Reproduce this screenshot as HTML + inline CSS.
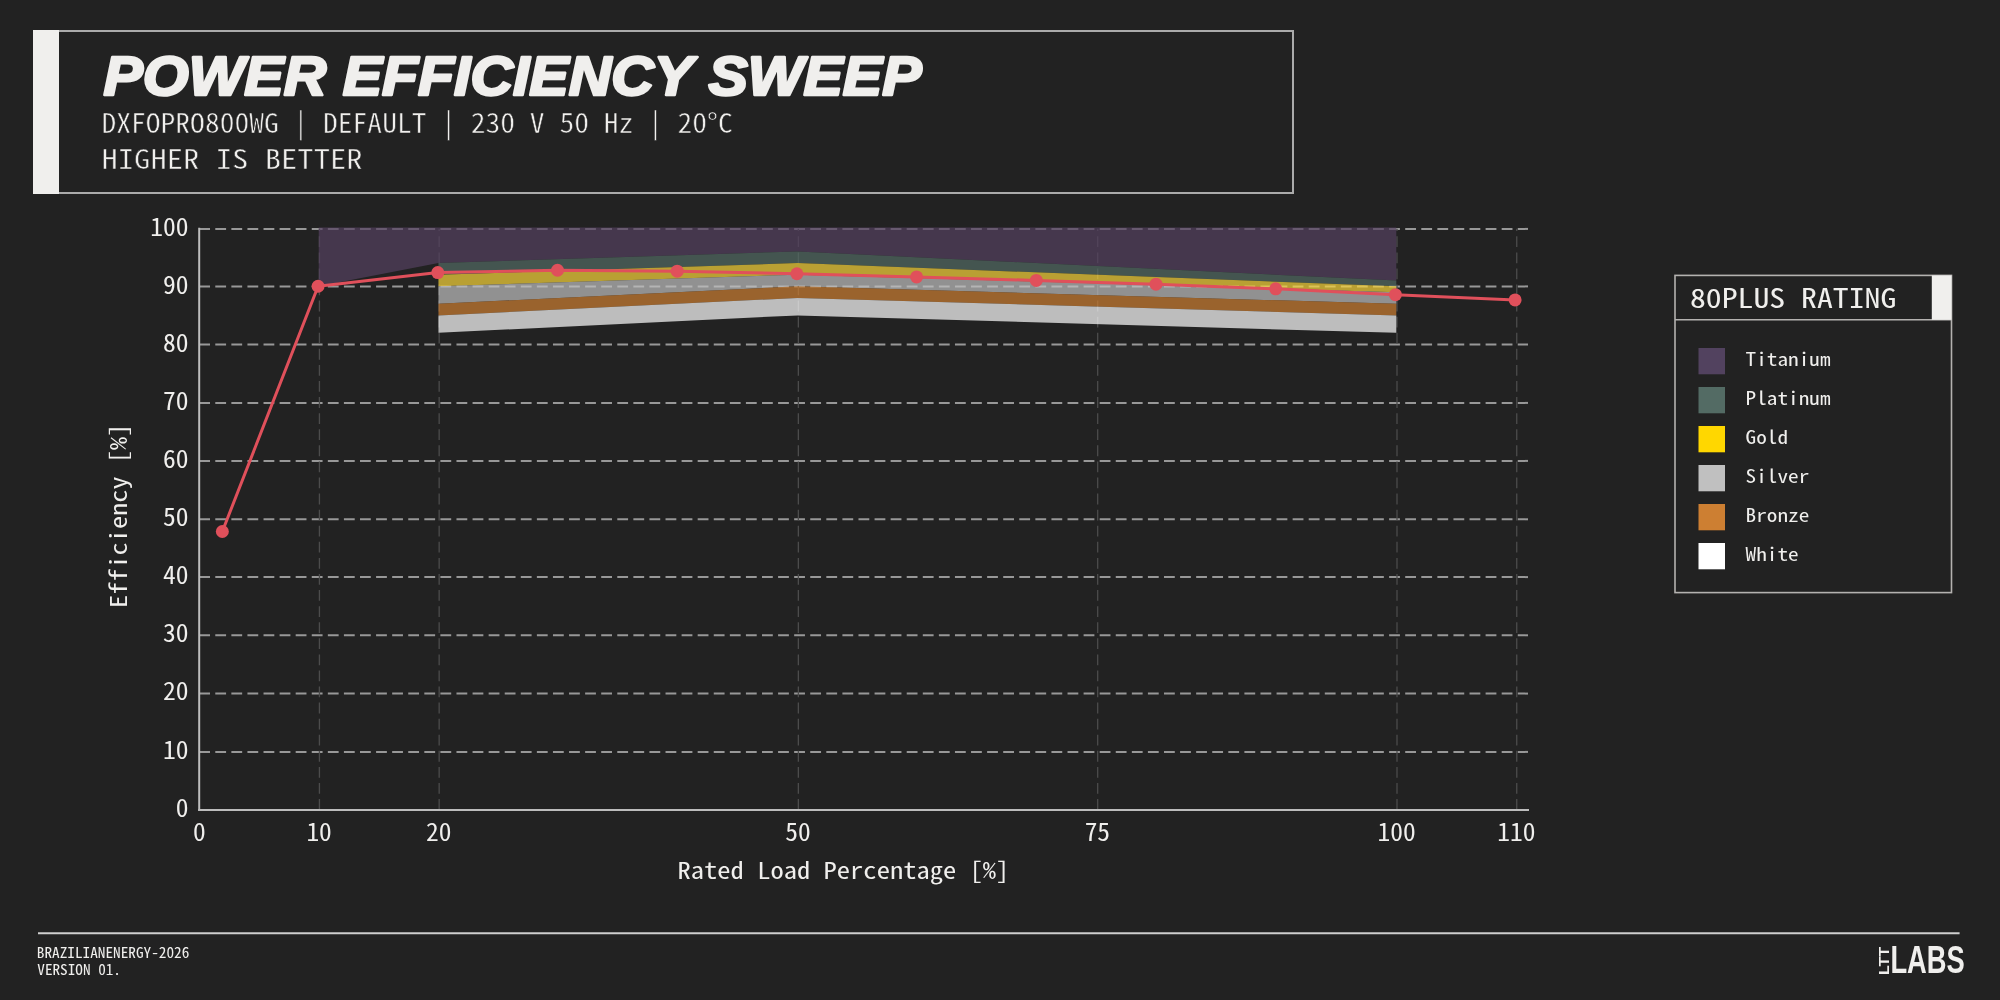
<!DOCTYPE html>
<html><head><meta charset="utf-8"><title>Power Efficiency Sweep</title>
<style>
html,body{margin:0;padding:0;background:#222222;width:2000px;height:1000px;overflow:hidden}
svg{display:block;will-change:transform}
.m{font-family:'Noto Sans Mono CJK JP','DejaVu Sans Mono','Liberation Mono',monospace;fill:#f0efed}
.e{stroke:#222222;stroke-width:0.5px}
</style></head><body>
<svg width="2000" height="1000" viewBox="0 0 2000 1000">
<rect width="2000" height="1000" fill="#222222"/>

<rect x="34" y="31" width="1259" height="162" fill="none" stroke="#ababab" stroke-width="2"/>
<rect x="33" y="30" width="26" height="164" fill="#f0efed"/>
<text x="103.5" y="94.8" font-family="'Liberation Sans',Arial,sans-serif" font-weight="700" font-style="italic" font-size="55" fill="#f0efed" stroke="#f0efed" stroke-width="2.6" stroke-linejoin="round" textLength="818" lengthAdjust="spacingAndGlyphs">POWER EFFICIENCY SWEEP</text>
<text class="m e" x="101.5" y="133" font-size="27.2" textLength="631.3" lengthAdjust="spacingAndGlyphs">DXFOPRO800WG | DEFAULT | 230 V 50 Hz | 20°C</text>
<text class="m e" x="101.4" y="168.7" font-size="27.2" textLength="261.3" lengthAdjust="spacingAndGlyphs">HIGHER IS BETTER</text>
<line x1="199.2" y1="751.90" x2="1528" y2="751.90" stroke="#989898" stroke-width="2" stroke-dasharray="10.8 5.28"/>
<line x1="199.2" y1="693.60" x2="1528" y2="693.60" stroke="#989898" stroke-width="2" stroke-dasharray="10.8 5.28"/>
<line x1="199.2" y1="635.30" x2="1528" y2="635.30" stroke="#989898" stroke-width="2" stroke-dasharray="10.8 5.28"/>
<line x1="199.2" y1="577.10" x2="1528" y2="577.10" stroke="#989898" stroke-width="2" stroke-dasharray="10.8 5.28"/>
<line x1="199.2" y1="519.30" x2="1528" y2="519.30" stroke="#989898" stroke-width="2" stroke-dasharray="10.8 5.28"/>
<line x1="199.2" y1="460.90" x2="1528" y2="460.90" stroke="#989898" stroke-width="2" stroke-dasharray="10.8 5.28"/>
<line x1="199.2" y1="402.90" x2="1528" y2="402.90" stroke="#989898" stroke-width="2" stroke-dasharray="10.8 5.28"/>
<line x1="199.2" y1="344.50" x2="1528" y2="344.50" stroke="#989898" stroke-width="2" stroke-dasharray="10.8 5.28"/>
<line x1="199.2" y1="286.40" x2="1528" y2="286.40" stroke="#989898" stroke-width="2" stroke-dasharray="10.8 5.28"/>
<line x1="199.2" y1="228.90" x2="1528" y2="228.90" stroke="#989898" stroke-width="2" stroke-dasharray="10.8 5.28"/>
<line x1="319.43" y1="809.9" x2="319.43" y2="228.7" stroke="#4c4c4c" stroke-width="1.3" stroke-dasharray="10.8 5.28"/>
<line x1="439.16" y1="809.9" x2="439.16" y2="228.7" stroke="#4c4c4c" stroke-width="1.3" stroke-dasharray="10.8 5.28"/>
<line x1="798.35" y1="809.9" x2="798.35" y2="228.7" stroke="#4c4c4c" stroke-width="1.3" stroke-dasharray="10.8 5.28"/>
<line x1="1097.67" y1="809.9" x2="1097.67" y2="228.7" stroke="#4c4c4c" stroke-width="1.3" stroke-dasharray="10.8 5.28"/>
<line x1="1397.00" y1="809.9" x2="1397.00" y2="228.7" stroke="#4c4c4c" stroke-width="1.3" stroke-dasharray="10.8 5.28"/>
<line x1="1516.73" y1="809.9" x2="1516.73" y2="228.7" stroke="#4c4c4c" stroke-width="1.3" stroke-dasharray="10.8 5.28"/>
<polygon points="318.73,286.32 438.46,263.07 797.65,251.45 1396.30,280.51 1396.30,227.62 797.65,227.62 438.46,227.62 318.73,227.62" fill="#54405f" fill-opacity="0.7"/>
<polygon points="438.46,274.70 797.65,263.07 1396.30,286.32 1396.30,280.51 797.65,251.45 438.46,263.07" fill="#536b64" fill-opacity="0.7"/>
<polygon points="438.46,286.32 797.65,274.70 1396.30,292.13 1396.30,286.32 797.65,263.07 438.46,274.70" fill="#fad63a" fill-opacity="0.7"/>
<polygon points="438.46,303.76 797.65,286.32 1396.30,303.76 1396.30,292.13 797.65,274.70 438.46,286.32" fill="#c0c0c0" fill-opacity="0.7"/>
<polygon points="438.46,315.38 797.65,297.94 1396.30,315.38 1396.30,303.76 797.65,286.32 438.46,303.76" fill="#cd7f32" fill-opacity="0.7"/>
<polygon points="438.46,332.82 797.65,315.38 1396.30,332.82 1396.30,315.38 797.65,297.94 438.46,315.38" fill="#ffffff" fill-opacity="0.7"/>
<line x1="199.2" y1="227.7" x2="199.2" y2="810.9" stroke="#bdbdbd" stroke-width="2"/>
<line x1="198.2" y1="809.9" x2="1529" y2="809.9" stroke="#bdbdbd" stroke-width="2"/>
<polyline points="222.34,531.51 318.10,286.24 437.80,272.58 557.50,270.26 677.20,271.13 796.90,273.74 916.60,276.94 1036.30,280.43 1156.00,284.20 1275.70,288.85 1395.40,294.67 1515.10,299.90" fill="none" stroke="#e0505b" stroke-width="3" stroke-linejoin="round"/>
<circle cx="222.34" cy="531.51" r="6.5" fill="#e0505b"/>
<circle cx="318.10" cy="286.24" r="6.5" fill="#e0505b"/>
<circle cx="437.80" cy="272.58" r="6.5" fill="#e0505b"/>
<circle cx="557.50" cy="270.26" r="6.5" fill="#e0505b"/>
<circle cx="677.20" cy="271.13" r="6.5" fill="#e0505b"/>
<circle cx="796.90" cy="273.74" r="6.5" fill="#e0505b"/>
<circle cx="916.60" cy="276.94" r="6.5" fill="#e0505b"/>
<circle cx="1036.30" cy="280.43" r="6.5" fill="#e0505b"/>
<circle cx="1156.00" cy="284.20" r="6.5" fill="#e0505b"/>
<circle cx="1275.70" cy="288.85" r="6.5" fill="#e0505b"/>
<circle cx="1395.40" cy="294.67" r="6.5" fill="#e0505b"/>
<circle cx="1515.10" cy="299.90" r="6.5" fill="#e0505b"/>
<text class="m" x="188.5" y="816.70" font-size="24.2" text-anchor="end" textLength="12.77" lengthAdjust="spacingAndGlyphs">0</text>
<text class="m" x="188.5" y="758.58" font-size="24.2" text-anchor="end" textLength="25.54" lengthAdjust="spacingAndGlyphs">10</text>
<text class="m" x="188.5" y="700.46" font-size="24.2" text-anchor="end" textLength="25.54" lengthAdjust="spacingAndGlyphs">20</text>
<text class="m" x="188.5" y="642.34" font-size="24.2" text-anchor="end" textLength="25.54" lengthAdjust="spacingAndGlyphs">30</text>
<text class="m" x="188.5" y="584.22" font-size="24.2" text-anchor="end" textLength="25.54" lengthAdjust="spacingAndGlyphs">40</text>
<text class="m" x="188.5" y="526.10" font-size="24.2" text-anchor="end" textLength="25.54" lengthAdjust="spacingAndGlyphs">50</text>
<text class="m" x="188.5" y="467.98" font-size="24.2" text-anchor="end" textLength="25.54" lengthAdjust="spacingAndGlyphs">60</text>
<text class="m" x="188.5" y="409.86" font-size="24.2" text-anchor="end" textLength="25.54" lengthAdjust="spacingAndGlyphs">70</text>
<text class="m" x="188.5" y="351.74" font-size="24.2" text-anchor="end" textLength="25.54" lengthAdjust="spacingAndGlyphs">80</text>
<text class="m" x="188.5" y="293.62" font-size="24.2" text-anchor="end" textLength="25.54" lengthAdjust="spacingAndGlyphs">90</text>
<text class="m" x="188.5" y="235.50" font-size="24.2" text-anchor="end" textLength="38.31" lengthAdjust="spacingAndGlyphs">100</text>
<text class="m" x="199.40" y="840.9" font-size="24.2" text-anchor="middle" textLength="12.72" lengthAdjust="spacingAndGlyphs">0</text>
<text class="m" x="319.13" y="840.9" font-size="24.2" text-anchor="middle" textLength="25.44" lengthAdjust="spacingAndGlyphs">10</text>
<text class="m" x="438.86" y="840.9" font-size="24.2" text-anchor="middle" textLength="25.44" lengthAdjust="spacingAndGlyphs">20</text>
<text class="m" x="798.05" y="840.9" font-size="24.2" text-anchor="middle" textLength="25.44" lengthAdjust="spacingAndGlyphs">50</text>
<text class="m" x="1097.38" y="840.9" font-size="24.2" text-anchor="middle" textLength="25.44" lengthAdjust="spacingAndGlyphs">75</text>
<text class="m" x="1396.70" y="840.9" font-size="24.2" text-anchor="middle" textLength="38.16" lengthAdjust="spacingAndGlyphs">100</text>
<text class="m" x="1516.43" y="840.9" font-size="24.2" text-anchor="middle" textLength="38.16" lengthAdjust="spacingAndGlyphs">110</text>
<text class="m" x="677.5" y="878.8" font-size="23.1" textLength="331.9" lengthAdjust="spacingAndGlyphs">Rated Load Percentage [%]</text>
<text class="m" transform="translate(127.3,608.1) rotate(-90)" x="0" y="0" font-size="23.1" textLength="184.4" lengthAdjust="spacingAndGlyphs">Efficiency [%]</text>
<rect x="1675" y="275.4" width="276.5" height="317.2" fill="none" stroke="#b4b2b0" stroke-width="1.6"/>
<line x1="1675" y1="319.8" x2="1951.5" y2="319.8" stroke="#b4b2b0" stroke-width="1.6"/>
<rect x="1931.8" y="275.4" width="19.7" height="44.4" fill="#f0efed"/>
<text class="m" x="1689.9" y="308.3" font-size="26.5" textLength="206.4" lengthAdjust="spacingAndGlyphs">80PLUS RATING</text>
<rect x="1698.5" y="348" width="26.5" height="26.3" fill="#52425f"/>
<text class="m" x="1745.6" y="365.6" font-size="18.5" textLength="85.0" lengthAdjust="spacingAndGlyphs">Titanium</text>
<rect x="1698.5" y="387" width="26.5" height="26.3" fill="#536b64"/>
<text class="m" x="1745.6" y="404.6" font-size="18.5" textLength="85.0" lengthAdjust="spacingAndGlyphs">Platinum</text>
<rect x="1698.5" y="426" width="26.5" height="26.3" fill="#ffd700"/>
<text class="m" x="1745.6" y="443.6" font-size="18.5" textLength="42.5" lengthAdjust="spacingAndGlyphs">Gold</text>
<rect x="1698.5" y="465" width="26.5" height="26.3" fill="#c0c0c0"/>
<text class="m" x="1745.6" y="482.6" font-size="18.5" textLength="63.7" lengthAdjust="spacingAndGlyphs">Silver</text>
<rect x="1698.5" y="504" width="26.5" height="26.3" fill="#cd7f32"/>
<text class="m" x="1745.6" y="521.6" font-size="18.5" textLength="63.7" lengthAdjust="spacingAndGlyphs">Bronze</text>
<rect x="1698.5" y="543" width="26.5" height="26.3" fill="#ffffff"/>
<text class="m" x="1745.6" y="560.6" font-size="18.5" textLength="53.1" lengthAdjust="spacingAndGlyphs">White</text>
<line x1="38" y1="933.3" x2="1959.6" y2="933.3" stroke="#cfcfcf" stroke-width="2"/>
<text class="m" x="36.8" y="958.2" font-size="15" textLength="152.6" lengthAdjust="spacingAndGlyphs">BRAZILIANENERGY-2026</text>
<text class="m" x="37.3" y="975.2" font-size="15" textLength="83.7" lengthAdjust="spacingAndGlyphs">VERSION 01.</text>
<text transform="translate(1889.1,975.1) rotate(-90)" font-family="'Liberation Sans',Arial,sans-serif" font-weight="700" font-size="14.3" fill="#f0efed" textLength="28.2" lengthAdjust="spacingAndGlyphs">LTT</text>
<text x="1890.4" y="973.4" font-family="'Liberation Sans',Arial,sans-serif" font-weight="700" font-size="38" fill="#f0efed" textLength="74.4" lengthAdjust="spacingAndGlyphs">LABS</text>
</svg></body></html>
